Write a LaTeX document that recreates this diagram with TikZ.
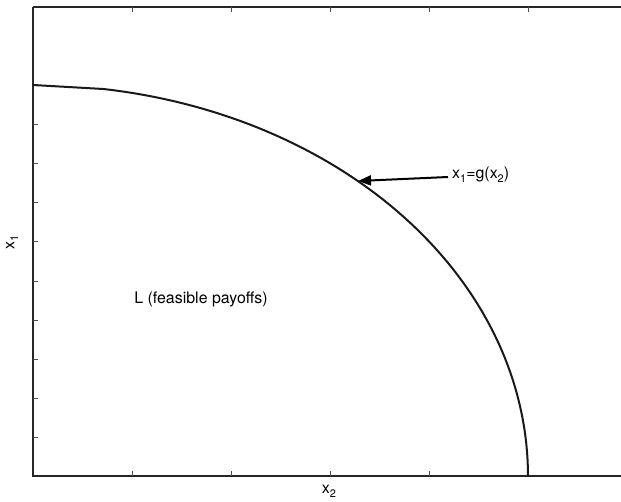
\documentclass[tikz,border=0pt]{standalone}
\usepackage{fontspec}
\setmainfont{TeX Gyre Heros}
\usetikzlibrary{positioning, arrows.meta}
\newcommand{\lowsub}[1]{\raisebox{-0.45ex}{\fontsize{11}{13}\selectfont #1}}

\begin{document}
\begin{tikzpicture}[
    x=1bp, y=-1bp,
    % Axis and curve styles
    axis/.style={line width=2bp, black!85},
    frame/.style={line width=1.2bp, black!85},
    tick/.style={line width=1bp, black!70},
    curve/.style={line width=2bp, black!90},
    lbl/.style={font=\fontsize{16}{19}\selectfont, inner sep=1bp},
    >={Triangle[length=13bp, width=10bp]}
]
    \useasboundingbox (0,0) rectangle (621,502);

    % --- AXES ---
    \coordinate (o) at (33,476);
    \coordinate (top) at (33,7);
    \coordinate (topright) at (621,7);
    \coordinate (right) at (621,476);
    \draw[frame] (top) -- (topright);
    \draw[axis] (top) -- (o) -- (right);

    % Ticks on the left axis
    \foreach \y in {85,124.2,163.4,202.6,241.8,281,320.2,359.4,398.6,437.8}
        \draw[tick] (33,\y) -- (38,\y);
    % Ticks on the bottom axis and the top line
    \foreach \x in {132,231,330,429,528} {
        \draw[tick] (\x,476) -- (\x,471);
        \draw[tick] (\x,7) -- (\x,12);
    }

    % --- FRONTIER ---
    \draw[curve] (33,85) -- plot[domain=81.8:0, samples=70] ({33+495*cos(\x)}, {476-391*sin(\x)});
    \coordinate (g) at (358,181);

    % --- LABELS ---
    \node[lbl, anchor=west] (gx) at (451,175) {x\lowsub{1}=g(x\lowsub{2})};
    \node[lbl] (set) at (201,299) {L (feasible payoffs)};
    \node[lbl, rotate=90] (xone) at (12,242) {x\lowsub{1}};
    \node[lbl] (xtwo) at (329,491) {x\lowsub{2}};

    % --- ARROW ---
    \draw[->, line width=2bp] (gx.west) ++(-3,2) -- (g);
\end{tikzpicture}
\end{document}
